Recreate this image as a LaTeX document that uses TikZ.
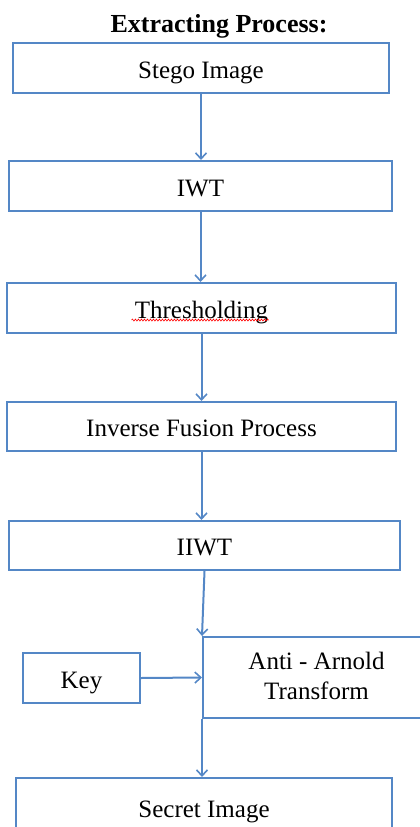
\documentclass[tikz,border=0pt]{standalone}
\usepackage{fontspec}
\setmainfont{Liberation Serif}
\usepackage{tikz}
\usetikzlibrary{arrows.meta,decorations.pathmorphing}
\definecolor{boxblue}{RGB}{84,135,198}

\begin{document}
\begin{tikzpicture}[x=1pt, y=-1pt,
		stepbox/.style={draw=boxblue, line width=2pt, rectangle, inner sep=0pt,
			text height=20pt, text depth=0pt,
			font=\fontsize{25}{30}\selectfont, text=black},
		flow/.style={draw=boxblue, line width=2pt,
			-{Straight Barb[length=6pt, width=11pt, line width=1.6pt]}}]
			%%%%% START %%%%%
			
			\useasboundingbox (0, 0) rectangle (420, 827);
			
			\node[anchor=base, font=\fontsize{26}{30}\selectfont\bfseries] (title) at (219, 32) {Extracting Process:};
			
			\node[stepbox, minimum width=376pt, minimum height=50pt] (stego) at (201, 68) {Stego Image};
			\node[stepbox, minimum width=383pt, minimum height=50pt] (iwt) at (200.5, 186) {IWT};
			\node[stepbox, minimum width=389pt, minimum height=50pt] (thr) at (201.5, 308) {Thresholding};
			\node[stepbox, minimum width=389pt, minimum height=49pt] (fus) at (201.5, 426.5) {Inverse Fusion Process};
			\node[stepbox, minimum width=391pt, minimum height=49pt] (iiwt) at (204.5, 545.5) {IIWT};
			
			\node[stepbox, minimum width=227pt, minimum height=81pt, align=center,
				text height=43pt] (anti) at (316.5, 677.5) {Anti - Arnold\\Transform};
			\node[stepbox, minimum width=117pt, minimum height=50pt] (key) at (81.5, 678) {Key};
			
			\node[stepbox, minimum width=376pt, minimum height=58pt] (secret) at (204, 807) {Secret Image};
			
			% spell checker squiggle
			\draw[red, line width=0.6pt, decorate, decoration={snake, amplitude=1pt, segment length=3pt}]
				([xshift=-70pt, yshift=-12pt]thr.center) -- ([xshift=67pt, yshift=-12pt]thr.center);
			
			\draw[flow] (stego.south) -- (stego.south |- iwt.north);
			\draw[flow] (iwt.south) -- (iwt.south |- thr.north);
			\draw[flow] (thr.south) -- (thr.south |- fus.north);
			\draw[flow] (fus.south) -- (fus.south |- iiwt.north);
			\draw[flow] (iiwt.south) -- (anti.north west);
			\draw[flow] (key.east) -- (anti.west);
			\draw[flow] (anti.south west) -- (anti.south west |- secret.north);
			
			%%%%% END %%%%%
\end{tikzpicture}
\end{document}
